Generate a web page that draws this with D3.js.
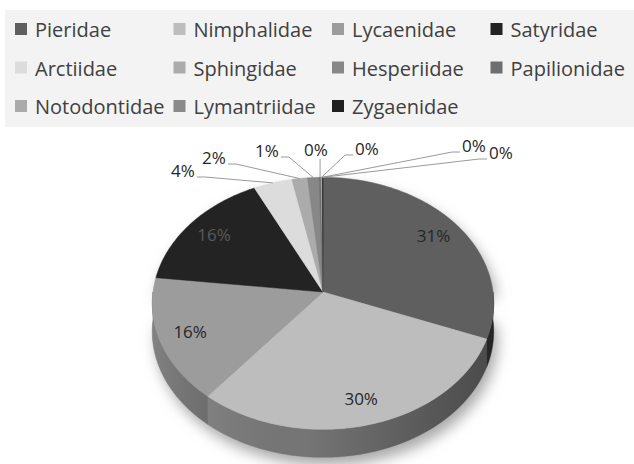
<!DOCTYPE html>
<html>
<head>
<meta charset="utf-8">
<style>
  body { margin: 0; background: #fff; }
  svg { display: block; font-family: "Open Sans", sans-serif; }
</style>
</head>
<body>
<svg width="634" height="464" viewBox="0 0 634 464"></svg>
<script src="https://d3js.org/d3.v7.min.js"></script>
<script>
// butterfly / moth families, share of records (%)
const families = ['Pieridae', 'Nimphalidae', 'Lycaenidae', 'Satyridae', 'Arctiidae', 'Sphingidae',
  'Hesperiidae', 'Papilionidae', 'Notodontidae', 'Lymantriidae', 'Zygaenidae'];
const shares = [31, 30, 16, 16, 4, 1.6, 1.2, 0.2, 0.1, 0.05, 0.05];
const greys = ['#5f5f5f', '#bdbdbd', '#9c9c9c', '#232323', '#dcdcdc', '#ababab',
  '#878787', '#6e6e6e', '#aaaaaa', '#8a8a8a', '#202020'];

// where the small-slice callouts sit, relative to the pie centre
const calloutOffsets = [[-140, -121], [-109, -134], [-56, -141], [-7, -142], [44, -143], [151, -146], [178, -139]];

const svg = d3.select('svg');
const width = 634;

// ---- legend
const legendCols = 4;
const colW = 158.5;
const rowH = 38.5;
svg.append('rect')
  .attr('x', 5).attr('y', 10)
  .attr('width', width - 5).attr('height', 117)
  .attr('fill', '#f3f3f3');

const items = svg.selectAll('.key').data(families).enter().append('g')
  .attr('class', 'key')
  .attr('transform', (d, i) => `translate(${15 + (i % legendCols) * colW},${37 + Math.floor(i / legendCols) * rowH})`);
items.append('rect')
  .attr('y', -14)
  .attr('width', 12).attr('height', 12)
  .attr('fill', (d, i) => greys[i]);
items.append('text')
  .attr('x', 20)
  .attr('font-size', '20px')
  .attr('fill', '#404040')
  .text(d => d);

// ---- 3d pie
const cx = 323, cy = 292;
const rx = 170, ry = 125;
const persp = 0.09;
const depth = 28;

function project (a, r, z = 0) {
  const x = r * Math.sin(a);
  const y = -r * Math.cos(a);
  const s = 1 / (1 - persp * y);
  return [cx + rx * x * s, cy + ry * y * s + z];
}
function arcPts (a0, a1, r, z) {
  const n = Math.max(2, Math.ceil((a1 - a0) / 0.02));
  return d3.range(n + 1).map(i => project(a0 + (a1 - a0) * i / n, r, z));
}
const line = d3.line();

const total = d3.sum(shares);
const slices = d3.pie().sort(null).value(d => d)(shares);

const defs = svg.append('defs');
defs.append('filter').attr('id', 'blur')
  .attr('x', '-20%').attr('y', '-20%').attr('width', '140%').attr('height', '140%')
  .append('feGaussianBlur').attr('stdDeviation', 7);
const wallGrad = defs.append('linearGradient').attr('id', 'wallShade')
  .attr('gradientUnits', 'userSpaceOnUse')
  .attr('x1', cx - rx).attr('x2', cx + rx).attr('y1', 0).attr('y2', 0);
wallGrad.append('stop').attr('offset', 0).attr('stop-color', '#fff').attr('stop-opacity', 0.18);
wallGrad.append('stop').attr('offset', 0.45).attr('stop-color', '#000').attr('stop-opacity', 0.05);
wallGrad.append('stop').attr('offset', 1).attr('stop-color', '#000').attr('stop-opacity', 0.4);

// soft shadow under the pie
const rimTop = arcPts(Math.PI / 2, Math.PI * 1.5, 1, 0);
const rimBottom = arcPts(Math.PI / 2, Math.PI * 1.5, 1, depth).reverse();
const outline = arcPts(0, 2 * Math.PI, 1, 0);
svg.append('path')
  .attr('d', line(outline.filter(p => p[1] < cy).concat(rimBottom.slice().reverse())) + 'Z')
  .attr('transform', 'translate(4,8)')
  .attr('fill', '#a8a8a8')
  .attr('filter', 'url(#blur)');

// front walls
const walls = slices.map((d, i) => {
  const a0 = Math.max(d.startAngle, Math.PI / 2);
  const a1 = Math.min(d.endAngle, Math.PI * 1.5);
  return a0 < a1 ? { i, a0, a1 } : null;
}).filter(Boolean);
svg.selectAll('.wall').data(walls).enter().append('path')
  .attr('class', 'wall')
  .attr('d', d => line(arcPts(d.a0, d.a1, 1, 0).concat(arcPts(d.a0, d.a1, 1, depth).reverse())) + 'Z')
  .attr('fill', d => d3.interpolateRgb(greys[d.i], '#000')(0.35))
  .attr('stroke', d => d3.interpolateRgb(greys[d.i], '#000')(0.35))
  .attr('stroke-width', 0.5);
svg.append('path')
  .attr('d', line(rimTop.concat(rimBottom)) + 'Z')
  .attr('fill', 'url(#wallShade)');

// top faces
svg.selectAll('.top').data(slices).enter().append('path')
  .attr('class', 'top')
  .attr('d', d => line([project(0, 0)].concat(arcPts(d.startAngle, d.endAngle, 1, 0))) + 'Z')
  .attr('fill', (d, i) => greys[i])
  .attr('stroke', (d, i) => greys[i])
  .attr('stroke-width', 0.5);

// ---- data labels
const pct = v => Math.round(v / total * 100) + '%';
const big = slices.filter(d => d.value / total >= 0.05);
const small = slices.filter(d => d.value / total < 0.05);

svg.selectAll('.inlabel').data(big).enter().append('text')
  .attr('class', 'inlabel')
  .attr('font-size', '17px')
  .attr('fill', d => d3.hsl(greys[d.index]).l < 0.25 ? '#5a5a5a' : '#262626')
  .attr('text-anchor', 'middle')
  .attr('dy', '0.35em')
  .attr('x', d => project((d.startAngle + d.endAngle) / 2, 0.82)[0])
  .attr('y', d => project((d.startAngle + d.endAngle) / 2, 0.82)[1])
  .text(d => pct(d.value));

const callouts = small.map((d, k) => {
  const rim = project((d.startAngle + d.endAngle) / 2, 1);
  return { d, rim, x: cx + calloutOffsets[k][0], y: cy + calloutOffsets[k][1] };
});
const gOut = svg.selectAll('.outlabel').data(callouts).enter().append('g')
  .attr('class', 'outlabel');
const outText = gOut.append('text')
  .attr('font-size', '17px')
  .attr('fill', '#262626')
  .attr('text-anchor', 'middle')
  .attr('dy', '0.35em')
  .attr('x', d => d.x)
  .attr('y', d => d.y)
  .text(d => pct(d.d.value));
outText.each(function (d) { d.w = this.getComputedTextLength(); });
gOut.insert('path', 'text')
  .attr('fill', 'none')
  .attr('stroke', '#9a9a9a')
  .attr('stroke-width', 1)
  .attr('d', d => {
    const base = d.y + 6;
    if (Math.abs(d.rim[0] - d.x) < 12) {
      return line([[d.rim[0], base + 3], d.rim]);
    }
    const side = d.rim[0] > d.x ? 1 : -1;
    const sx = d.x + side * (d.w / 2 + 2);
    return line([[sx, base], [sx + side * 8, base], d.rim]);
  });
</script>
</body>
</html>
